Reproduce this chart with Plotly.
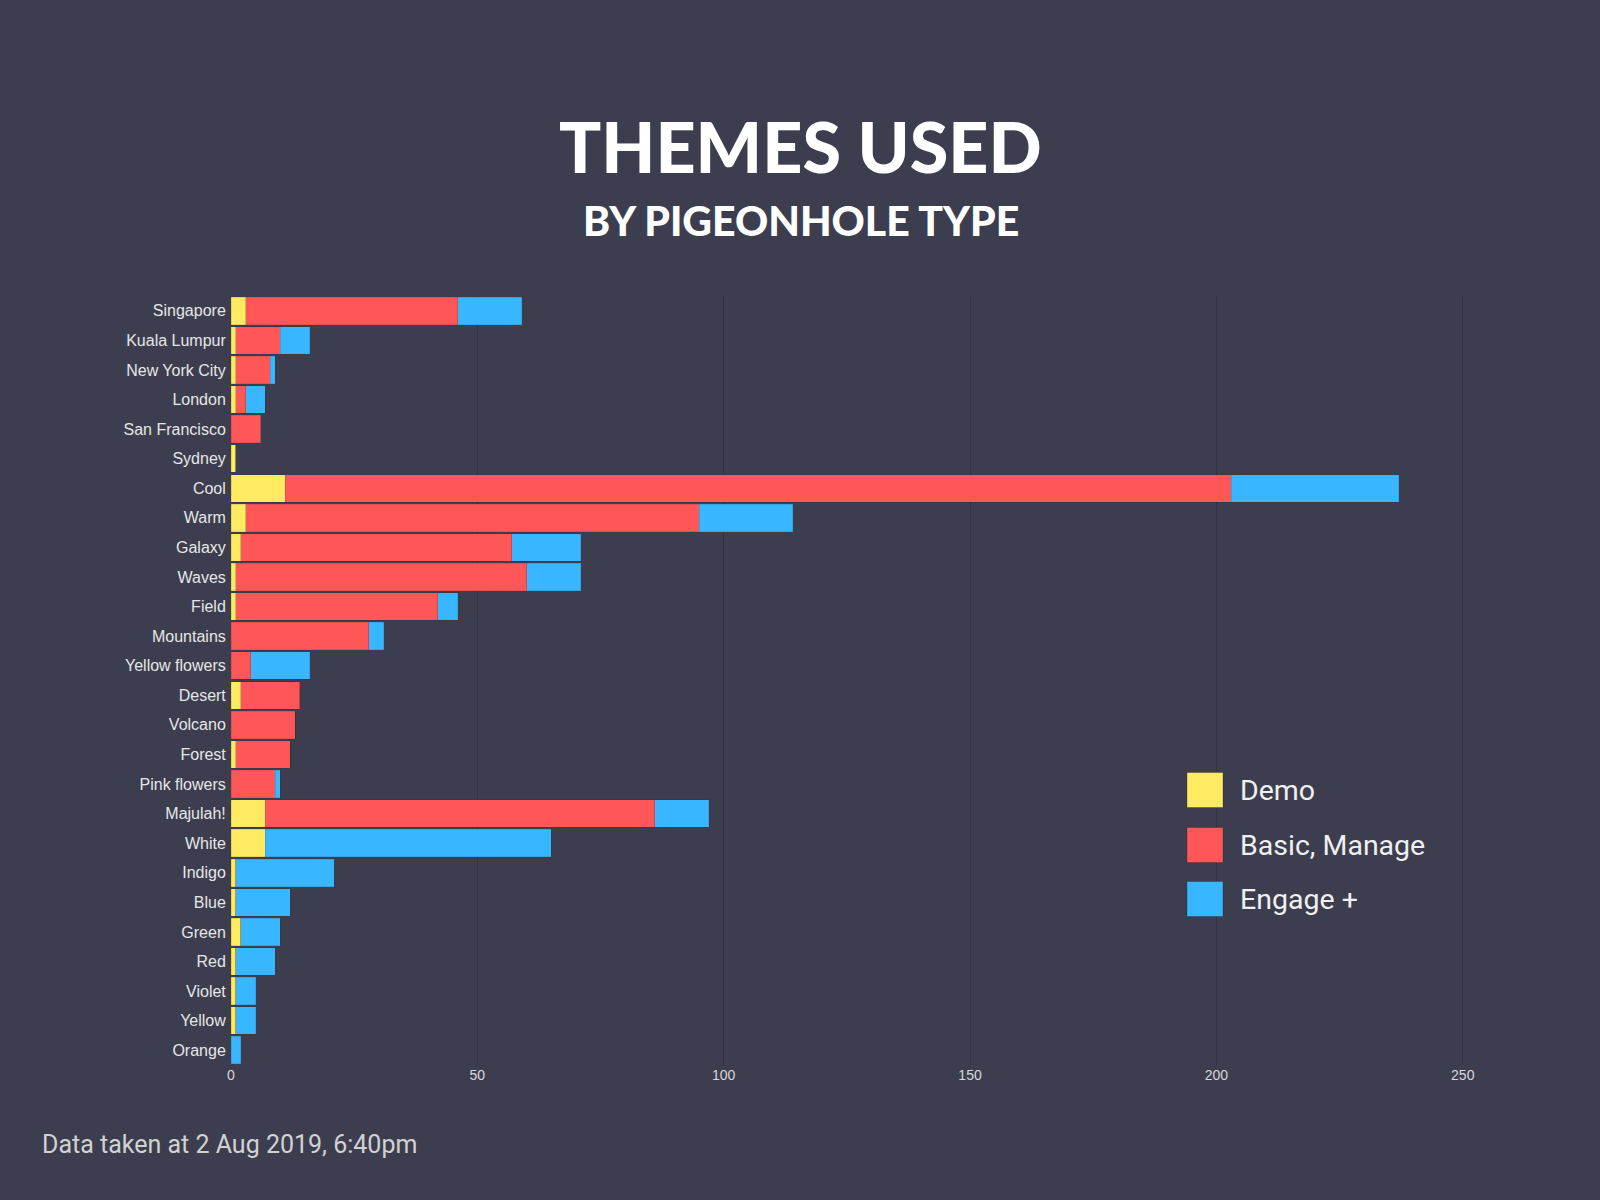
import plotly.graph_objects as go

# themes, top to bottom as shown in the chart
themes = ["Singapore", "Kuala Lumpur", "New York City", "London", "San Francisco",
          "Sydney", "Cool", "Warm", "Galaxy", "Waves", "Field", "Mountains",
          "Yellow flowers", "Desert", "Volcano", "Forest", "Pink flowers",
          "Majulah!", "White", "Indigo", "Blue", "Green", "Red", "Violet",
          "Yellow", "Orange"]

demo = [3, 1, 1, 1, 0, 1, 11, 3, 2, 1, 1, 0, 0, 2, 0, 1, 0, 7, 7, 1, 1, 2, 1, 1, 1, 0]
basic_manage = [43, 9, 7, 2, 6, 0, 192, 92, 55, 59, 41, 28, 4, 12, 13, 11, 9, 79, 0, 0, 0, 0, 0, 0, 0, 0]
engage = [13, 6, 1, 4, 0, 0, 34, 19, 14, 11, 4, 3, 12, 0, 0, 0, 1, 11, 58, 20, 11, 8, 8, 4, 4, 2]

series_names = ["Demo", "Basic, Manage", "Engage +"]
colors = ["#ffeb62", "#ff5757", "#38b6ff"]

BG = "#3c3e4f"

fig = go.Figure()
for name, vals, col in zip(series_names, [demo, basic_manage, engage], colors):
    fig.add_trace(go.Bar(y=themes, x=vals, name=name, orientation="h",
                         marker=dict(color=col, line=dict(width=0.6, color="rgba(30,30,40,0.2)")),
                         showlegend=False))

fig.update_layout(
    width=1600, height=1200,
    barmode="stack", bargap=0.07,
    paper_bgcolor=BG, plot_bgcolor=BG,
    margin=dict(l=231, r=88, t=296, b=135),
    font=dict(family="Liberation Sans, Arial, sans-serif", color="#e6e6e6"),
)
fig.update_xaxes(range=[0, 260], tickvals=[0, 50, 100, 150, 200, 250],
                 showgrid=True, gridcolor="#31333f", gridwidth=1, zeroline=False,
                 showline=False, tickfont=dict(size=14, color="#d8d8d8"), ticklen=0)
fig.update_yaxes(autorange="reversed", showgrid=False, showline=False,
                 tickfont=dict(size=16, color="#e6e6e6"), ticks="outside",
                 ticklen=1, tickcolor="rgba(0,0,0,0)")

# title and subtitle
fig.add_annotation(text="THEMES USED", xref="paper", yref="paper", x=0.5, y=1,
                   xanchor="center", yanchor="middle", showarrow=False,
                   yshift=150, xshift=-71,
                   font=dict(family="Lato", size=70, color="white", weight=900))
fig.add_annotation(text="BY PIGEONHOLE TYPE", xref="paper", yref="paper", x=0.5, y=1,
                   xanchor="center", yanchor="middle", showarrow=False,
                   yshift=76, xshift=-71,
                   font=dict(family="Lato", size=41, color="white", weight=900))

# legend drawn as swatches + labels
leg_y = [790, 845, 899]
for name, col, yc in zip(series_names, colors, leg_y):
    fig.add_shape(type="rect", xref="paper", yref="paper",
                  x0=(1187 - 231) / 1281, x1=(1223 - 231) / 1281,
                  y0=(1065 - yc - 17.5) / 769, y1=(1065 - yc + 17.5) / 769,
                  fillcolor=col, line=dict(width=1, color="rgba(30,30,40,0.3)"))
    fig.add_annotation(text=name, xref="paper", yref="paper",
                       x=(1238 - 231) / 1281, y=(1065 - yc) / 769,
                       xanchor="left", yanchor="middle", showarrow=False,
                       font=dict(family="Roboto", size=28.5, color="#f0f0f0"))

# footer note
fig.add_annotation(text="Data taken at 2 Aug 2019, 6:40pm", xref="paper", yref="paper",
                   x=0, y=0, xanchor="left", yanchor="middle", showarrow=False,
                   xshift=-191, yshift=-79,
                   font=dict(family="Roboto", size=25, color="#d2d2d2"))

fig.write_html("out.html", config={"displayModeBar": False},
               post_script="document.body.style.margin='0';")
